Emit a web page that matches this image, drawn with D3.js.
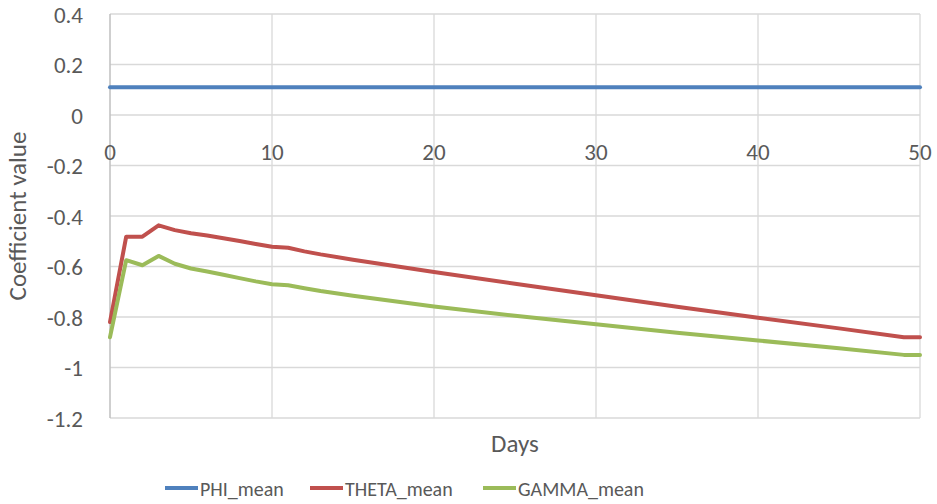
<!DOCTYPE html>
<html>
<head>
<meta charset="utf-8">
<script src="https://cdn.jsdelivr.net/npm/d3@7"></script>
<style>
  body { margin: 0; background: #fff; }
  text { font-family: Carlito, Lato, sans-serif; fill: #595959; }
  .grid { stroke: #d9d9d9; stroke-width: 1.3; }
</style>
</head>
<body>
<div id="vis-1"></div>
<script>
// -------------------------------- Datos ------------------------------
const days = [0, 1, 2, 3, 4, 5, 6, 7, 8, 9, 10, 11, 12, 13, 15, 20, 25, 30, 35, 40, 45, 49, 50];

const phi_mean   = [0.11, 0.11, 0.11, 0.11, 0.11, 0.11, 0.11, 0.11, 0.11, 0.11, 0.11, 0.11,
                    0.11, 0.11, 0.11, 0.11, 0.11, 0.11, 0.11, 0.11, 0.11, 0.11, 0.11];
const theta_mean = [-0.82, -0.482, -0.482, -0.437, -0.456, -0.468, -0.477, -0.488, -0.499, -0.511,
                    -0.522, -0.526, -0.540, -0.552, -0.573, -0.622, -0.668, -0.714, -0.759,
                    -0.803, -0.845, -0.880, -0.880];
const gamma_mean = [-0.88, -0.575, -0.595, -0.558, -0.589, -0.608, -0.620, -0.633, -0.646, -0.659,
                    -0.670, -0.674, -0.686, -0.697, -0.716, -0.758, -0.795, -0.829, -0.862,
                    -0.893, -0.924, -0.950, -0.950];

const series_names  = ["PHI_mean", "THETA_mean", "GAMMA_mean"];
const series_colors = ["#4f81bd", "#c0504d", "#9bbb59"];

const x_ticks = [0, 10, 20, 30, 40, 50];
const y_ticks = [0.4, 0.2, 0, -0.2, -0.4, -0.6, -0.8, -1, -1.2];

// -------------------------------- Grafico ----------------------------
const WIDTH = 937;
const HEIGHT = 504;
const plot = {left: 110, right: 920, top: 14, bottom: 418};

function createChart() {
    const svg = d3.select("#vis-1").append("svg")
        .attr("width", WIDTH)
        .attr("height", HEIGHT);

    const x = d3.scaleLinear().domain([0, 50]).range([plot.left, plot.right]);
    const y = d3.scaleLinear().domain([-1.2, 0.4]).range([plot.bottom, plot.top]);

    // grilla horizontal
    svg.selectAll(".hgrid")
        .data(y_ticks)
        .enter().append("line")
        .attr("class", "grid")
        .attr("x1", plot.left).attr("x2", plot.right)
        .attr("y1", d => y(d)).attr("y2", d => y(d));

    // grilla vertical
    svg.selectAll(".vgrid")
        .data(x_ticks.slice(1))
        .enter().append("line")
        .attr("class", "grid")
        .attr("x1", d => x(d)).attr("x2", d => x(d))
        .attr("y1", plot.top).attr("y2", plot.bottom);

    // eje y
    svg.append("line")
        .attr("x1", x(0)).attr("x2", x(0))
        .attr("y1", plot.top).attr("y2", plot.bottom)
        .style("stroke", "#bfbfbf").style("stroke-width", 1.5);

    svg.selectAll(".ylabel")
        .data(y_ticks)
        .enter().append("text")
        .attr("x", 83)
        .attr("y", d => y(d) + 8.5)
        .style("text-anchor", "end")
        .style("font-size", "23px")
        .text(d => d);

    // etiquetas eje x (cruza en 0)
    svg.selectAll(".xlabel")
        .data(x_ticks)
        .enter().append("text")
        .attr("x", d => x(d))
        .attr("y", y(0) + 45)
        .style("text-anchor", "middle")
        .style("font-size", "23px")
        .text(d => d);

    // titulos
    svg.append("text")
        .attr("transform", "translate(26," + 216 + ") rotate(-90)")
        .style("text-anchor", "middle")
        .style("font-size", "25px")
        .text("Coefficient value");

    svg.append("text")
        .attr("x", (plot.left + plot.right) / 2)
        .attr("y", 452)
        .style("text-anchor", "middle")
        .style("font-size", "25px")
        .text("Days");

    // lineas
    const all_series = [phi_mean, theta_mean, gamma_mean];
    const line = d3.line()
        .x((d, i) => x(days[i]))
        .y(d => y(d));

    svg.selectAll(".serie")
        .data(all_series)
        .enter().append("path")
        .attr("d", line)
        .style("fill", "none")
        .style("stroke", (d, i) => series_colors[i])
        .style("stroke-width", 4)
        .style("stroke-linejoin", "round")
        .style("stroke-linecap", "round");

    // leyenda
    const legend_x = [165, 310, 483];
    const leg = svg.selectAll(".legend")
        .data(series_names)
        .enter().append("g")
        .attr("transform", (d, i) => "translate(" + legend_x[i] + ",488)");

    leg.append("line")
        .attr("x1", 0).attr("x2", 33)
        .style("stroke", (d, i) => series_colors[i])
        .style("stroke-width", 4);

    leg.append("text")
        .attr("x", 35)
        .attr("y", 7.5)
        .style("font-size", "20px")
        .text(d => d);
}

createChart();
</script>
</body>
</html>
